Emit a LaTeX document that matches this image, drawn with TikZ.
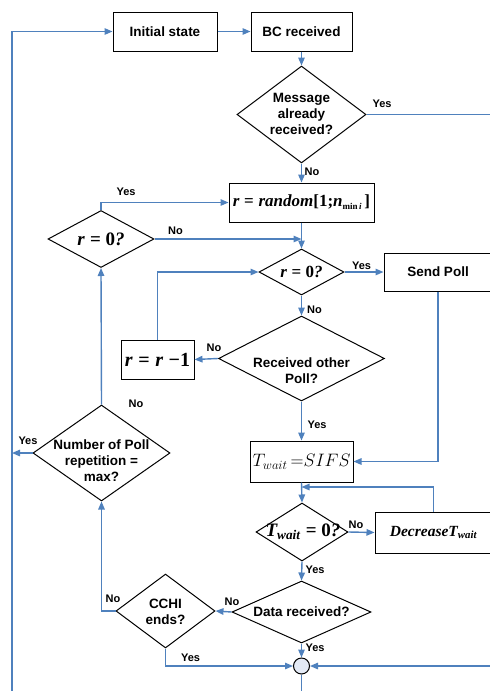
\RequirePackage{fix-cm}
\documentclass[tikz,border=0pt]{standalone}
\usepackage{fontspec}
\setmainfont{Liberation Sans}
\newfontfamily\tms{Liberation Serif}
\usetikzlibrary{shapes.geometric,arrows.meta,calc}
\definecolor{ln}{HTML}{4F81BD}
\definecolor{cf}{HTML}{E4EAF5}
\newcommand{\bi}[1]{{\tms\bfseries\itshape #1}}
\newcommand{\bu}[1]{{\tms\bfseries #1}}
\begin{document}
\begin{tikzpicture}[x=1pt,y=-1pt,
  line/.style={draw=ln,line width=1.4pt},
  arr/.style={line,-{Triangle[length=8pt,width=6.5pt]}},
  box/.style={draw=black,line width=1pt,rectangle,inner sep=0pt,font=\fontsize{13.5}{16}\selectfont\bfseries},
  dia/.style={draw=black,line width=1pt,diamond,inner sep=0pt},
  dtext/.style={font=\fontsize{13.5}{16}\selectfont\bfseries,align=center,inner sep=0pt},
  lab/.style={font=\fontsize{11}{12}\selectfont\bfseries,inner sep=0pt}
]
\useasboundingbox (0,0) rectangle (490,691);
\clip (0,0) rectangle (490,691);

% nodes
\node[box,minimum width=104pt,minimum height=39pt] (init) at (165,31.5) {Initial state};
\node[box,minimum width=101pt,minimum height=39pt] (bc) at (301.5,31.5) {BC received};
\node[dia,minimum width=129pt,minimum height=97pt] (msg) at (301.5,114.5) {};
\node[dtext] (msgt) at (301.5,114) {Message\\already\\received?};
\node[box,minimum width=145pt,minimum height=39pt] (rand) at (301.5,202.5)
  {\fontsize{17}{17}\selectfont\bi{r} \bu{=} \bi{random}\bu{[1;}\bi{n}\raisebox{-3pt}{\fontsize{9}{9}\selectfont\bu{min}\,\bi{i}}\,\bu{]}};
\node[dia,minimum width=106pt,minimum height=57pt] (r0a) at (101,239) {};
\node[inner sep=0pt] (r0at) at (101,239) {\fontsize{19}{19}\selectfont\bi{r} \bu{= 0}\bi{?}};
\node[dia,minimum width=85pt,minimum height=46pt] (r0b) at (301.5,272) {};
\node[inner sep=0pt] (r0bt) at (301.5,272) {\fontsize{17}{17}\selectfont\bi{r} \bu{= 0}\bi{?}};
\node[box,minimum width=108pt,minimum height=38pt] (send) at (438,272) {Send Poll};
\node[dia,minimum width=166pt,minimum height=85pt] (recv) at (301.5,358.5) {};
\node[dtext] (recvt) at (301.5,371) {Received other\\Poll?};
\node[box,minimum width=73pt,minimum height=39pt] (rr) at (157.5,359.5)
  {\fontsize{20}{20}\selectfont\bi{r} \bu{=} \bi{r} \bu{−1}};
\node[box,minimum width=103pt,minimum height=41pt] (tw) at (301.5,461.5)
  {\fontsize{18}{18}\selectfont\mdseries $T_{wait}\mkern3mu{=}SIFS$};
\node[dia,minimum width=137pt,minimum height=96pt] (num) at (101.5,453) {};
\node[dtext] (numt) at (101.5,461) {Number of Poll\\repetition =\\max?};
\node[dia,minimum width=92pt,minimum height=58pt] (tw0) at (302,532) {};
\node[inner sep=0pt] (tw0t) at (303,532) {\fontsize{19}{19}\selectfont\bi{T}\textsubscript{\bi{wait}} \bu{= 0}\bi{?}};
\node[box,minimum width=117pt,minimum height=41pt] (dec) at (433.5,532.5)
  {\fontsize{15.5}{16}\selectfont\bi{Decrease}\bi{T}\textsubscript{\bi{wait}}};
\node[dia,minimum width=139pt,minimum height=62pt] (data) at (301.5,612) {};
\node[dtext] (datat) at (301.5,612) {Data received?};
\node[dia,minimum width=99pt,minimum height=74pt] (cchi) at (165.5,611) {};
\node[dtext] (cchit) at (165.5,611.5) {CCHI\\ends?};
\node[circle,draw=black,line width=1pt,fill=cf,minimum size=16pt,inner sep=0pt] (circ) at (301.5,666) {};

% free ends
\coordinate (lbot) at (12,691);
\coordinate (ryes) at (490,114.5);
\coordinate (rin) at (490,666);
\coordinate (cbot) at (301.5,691);
\coordinate (lj) at (301.5,487);

% connectors
\draw[arr] (lbot) |- (init.west);
\draw[arr] (init.east) -- (bc.west);
\draw[arr] (bc.south) -- (msg.north);
\draw[line] (msg.east) -- (ryes);
\draw[arr] (msg.south) -- (rand.north);
\draw[arr] (rand.south) -- (r0b.north);
\draw[arr] (r0a.north) |- (rand.west);
\draw[arr] (r0a.east) -- (r0a.east -| rand.south);
\draw[arr] (r0b.east) -- (send.west);
\draw[arr] (r0b.south) -- (recv.north);
\draw[arr] (recv.west) -- (rr.east);
\draw[arr] (rr.north) |- (r0b.west);
\draw[arr] (recv.south) -- (tw.north);
\draw[arr] (send.south) |- (tw.east);
\draw[arr] (tw.south) -- (tw0.north);
\draw[arr] (dec.north) |- (lj);
\draw[arr] (tw0.east) -- (dec.west);
\draw[arr] (tw0.south) -- (data.north);
\draw[arr] (data.west) -- (cchi.east);
\draw[arr] (cchi.west) -| (num.south);
\draw[arr] (num.north) -- (r0a.south);
\draw[arr] (num.west) -- (num.west -| lbot);
\draw[arr] (cchi.south) |- (circ.west);
\draw[arr] (data.south) -- (circ.north);
\draw[arr] (rin) -- (circ.east);
\draw[line] (circ.south) -- (cbot);

% labels
\node[lab] (l1) at (382,104) {Yes};
\node[lab] (l2) at (312,171.5) {No};
\node[lab] (l3) at (126,192) {Yes};
\node[lab] (l4) at (175.5,231) {No};
\node[lab] (l5) at (361.5,266) {Yes};
\node[lab] (l6) at (314.5,310) {No};
\node[lab] (l7) at (214,347.5) {No};
\node[lab] (l8) at (317,425) {Yes};
\node[lab] (l9) at (136,404) {No};
\node[lab] (l10) at (28,441) {Yes};
\node[lab] (l11) at (356,524.5) {No};
\node[lab] (l12) at (315,570) {Yes};
\node[lab] (l13) at (232,602) {No};
\node[lab] (l14) at (113,599) {No};
\node[lab] (l15) at (190.5,657.5) {Yes};
\node[lab] (l16) at (315,648) {Yes};
\end{tikzpicture}
\end{document}
